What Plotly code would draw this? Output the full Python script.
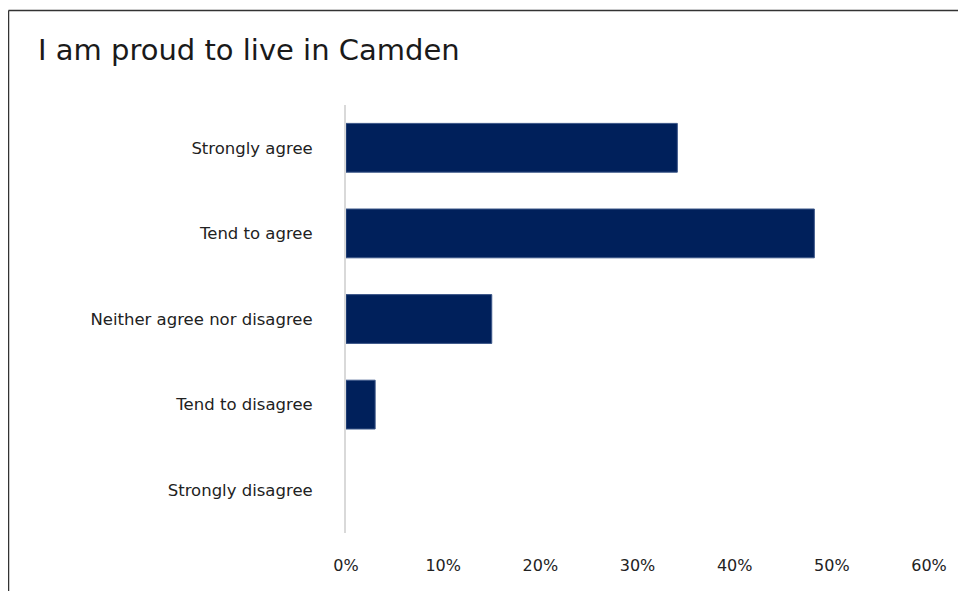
import plotly.graph_objects as go

categories = ["Strongly agree", "Tend to agree", "Neither agree nor disagree",
              "Tend to disagree", "Strongly disagree"]
values = [34.1, 48.2, 15.0, 3.0, 0.0]
tick_vals = [0, 10, 20, 30, 40, 50, 60]
tick_text = ["0%", "10%", "20%", "30%", "40%", "50%", "60%"]

FONT = "DejaVu Sans"
TXT = "#222222"

# page body has an 8px margin; work in screen pixels and subtract it
OFF = 8
W, H = 966, 591 - OFF
L, T = 346 - OFF, 105 - OFF
R = W - (929 - OFF)
B = H - (533 - OFF)
pw, ph = W - L - R, H - T - B

def px_x(p):
    return (p - OFF - L) / pw

def px_y(p):
    return (H - B - (p - OFF)) / ph

fig = go.Figure(go.Bar(
    x=values, y=categories, orientation="h",
    marker=dict(color="#00205B",
                line=dict(color="#3B5688", width=[1 if v > 0 else 0 for v in values])),
    hoverinfo="skip",
))

fig.update_layout(
    width=W, height=H,
    margin=dict(l=L, r=R, t=T, b=B, autoexpand=False),
    paper_bgcolor="white", plot_bgcolor="white",
    bargap=0.43,
    showlegend=False,
    font=dict(family=FONT, color=TXT, size=16),
    title=dict(text="I am proud to live in Camden", xref="container", yref="container",
               x=(38 - OFF) / W, xanchor="left", y=1 - (50 - OFF) / H, yanchor="middle",
               font=dict(family=FONT, size=29, color="#1a1a1a")),
    xaxis=dict(range=[0, 60], tickvals=tick_vals, ticktext=tick_text,
               showgrid=False, zeroline=False, showline=False,
               ticks="", ticklabelstandoff=21, tickfont=dict(size=16, color=TXT)),
    yaxis=dict(autorange="reversed", showgrid=False, zeroline=False,
               showline=True, linecolor="#d9d9d9", linewidth=2,
               ticks="", ticklabelstandoff=28, tickfont=dict(size=16.5, color=TXT)),
    shapes=[
        dict(type="line", xref="paper", yref="paper",
             x0=px_x(8.5), x1=px_x(1000), y0=px_y(10.5), y1=px_y(10.5),
             line=dict(color="#333333", width=1.5)),
        dict(type="line", xref="paper", yref="paper",
             x0=px_x(8.5), x1=px_x(8.5), y0=px_y(10.5), y1=px_y(620),
             line=dict(color="#333333", width=1.5)),
    ],
)

fig.write_html("out.html")
